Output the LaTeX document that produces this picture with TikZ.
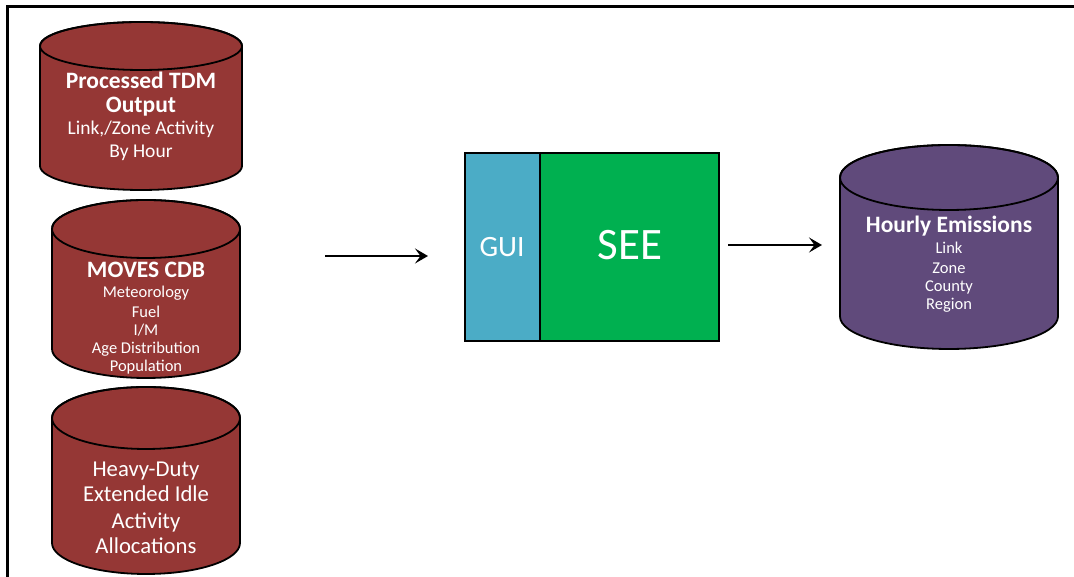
\documentclass[tikz,border=0pt]{standalone}
\usepackage{fontspec}
\setmainfont{Carlito}
\usetikzlibrary{arrows.meta}
\definecolor{dbred}{HTML}{953735}
\definecolor{dbpurple}{HTML}{604A7B}
\definecolor{guiblue}{HTML}{4BACC6}
\definecolor{seegreen}{HTML}{00B050}
\newcommand{\dbcyl}[6]{% cx, top cy, bottom cy, rx, ry, colour
  \filldraw[cylline,fill=#6] ({#1-#4},#2) -- ({#1-#4},#3)
    arc[start angle=180,end angle=360,x radius=#4,y radius=#5]
    -- ({#1+#4},#2)
    arc[start angle=0,end angle=180,x radius=#4,y radius=#5] -- cycle;
  \draw[cylline] (#1,#2) ellipse[x radius=#4,y radius=#5];
}
\tikzset{
  cylline/.style={draw=black,line width=1.8pt},
  lbl/.style={text=white,anchor=base,inner sep=0pt},
  boldl/.style={lbl,font=\fontsize{23.5}{26}\selectfont\bfseries},
  subl/.style={lbl,font=\fontsize{16.5}{18}\selectfont},
  midl/.style={lbl,font=\fontsize{19.5}{22}\selectfont},
  bigl/.style={lbl,font=\fontsize{22.7}{26}\selectfont},
  flow/.style={line width=2.6pt,-{Stealth[length=13pt,width=15pt,inset=5.5pt]}},
  panel/.style={draw=black,line width=2pt},
}
\begin{document}
\begin{tikzpicture}[x=1pt,y=1pt]
\useasboundingbox (0,0) rectangle (1074,577);
% frame (cropped)
\draw[line width=3pt] (7.5,0) -- (7.5,570.5) -- (1074,570.5);

% cylinders
\dbcyl{141}{531}{411}{101}{24}{dbred}
\dbcyl{146}{348}{228}{94}{29}{dbred}
\dbcyl{146}{159}{34}{94}{31}{dbred}
\dbcyl{949}{399.5}{260.5}{109}{32.5}{dbpurple}

% cylinder 1 text
\node[boldl] (t1a) at (141,488) {Processed TDM};
\node[boldl] (t1b) at (141,464) {Output};
\node[midl]  (t1c) at (141,442) {Link,/Zone Activity};
\node[midl]  (t1d) at (141,419) {By Hour};

% cylinder 2 text
\node[boldl] (t2a) at (146,299.7) {MOVES CDB};
\node[subl]  (t2b) at (146,279) {Meteorology};
\node[subl]  (t2c) at (146,259.7) {Fuel};
\node[subl]  (t2d) at (146,241.3) {I/M};
\node[subl]  (t2e) at (146,223) {Age Distribution};
\node[subl]  (t2f) at (146,205.3) {Population};

% cylinder 3 text
\node[bigl] (t3a) at (146,100.7) {Heavy-Duty};
\node[bigl] (t3b) at (146,75) {Extended Idle};
\node[bigl] (t3c) at (146,48.3) {Activity};
\node[bigl] (t3d) at (146,23.3) {Allocations};

% cylinder 4 text
\node[boldl] (t4a) at (949,344.3) {Hourly Emissions};
\node[subl]  (t4b) at (949,323) {Link};
\node[subl]  (t4c) at (949,303) {Zone};
\node[subl]  (t4d) at (949,285.3) {County};
\node[subl]  (t4e) at (949,267) {Region};

% GUI / SEE block
\filldraw[panel,fill=guiblue] (465,236) rectangle (540,424);
\filldraw[panel,fill=seegreen] (540,236) rectangle (719,424);
\node[lbl,font=\fontsize{29.5}{32}\selectfont] (gui) at (502,320.3) {GUI};
\node[lbl,font=\fontsize{45}{50}\selectfont] (see) at (630,317) {SEE};

% arrows
\coordinate (a1s) at (325,321);
\coordinate (a1e) at (428,321);
\coordinate (a2s) at (728,332);
\coordinate (a2e) at (822,332);
\draw[flow] (a1s) -- (a1e);
\draw[flow] (a2s) -- (a2e);
\end{tikzpicture}
\end{document}
